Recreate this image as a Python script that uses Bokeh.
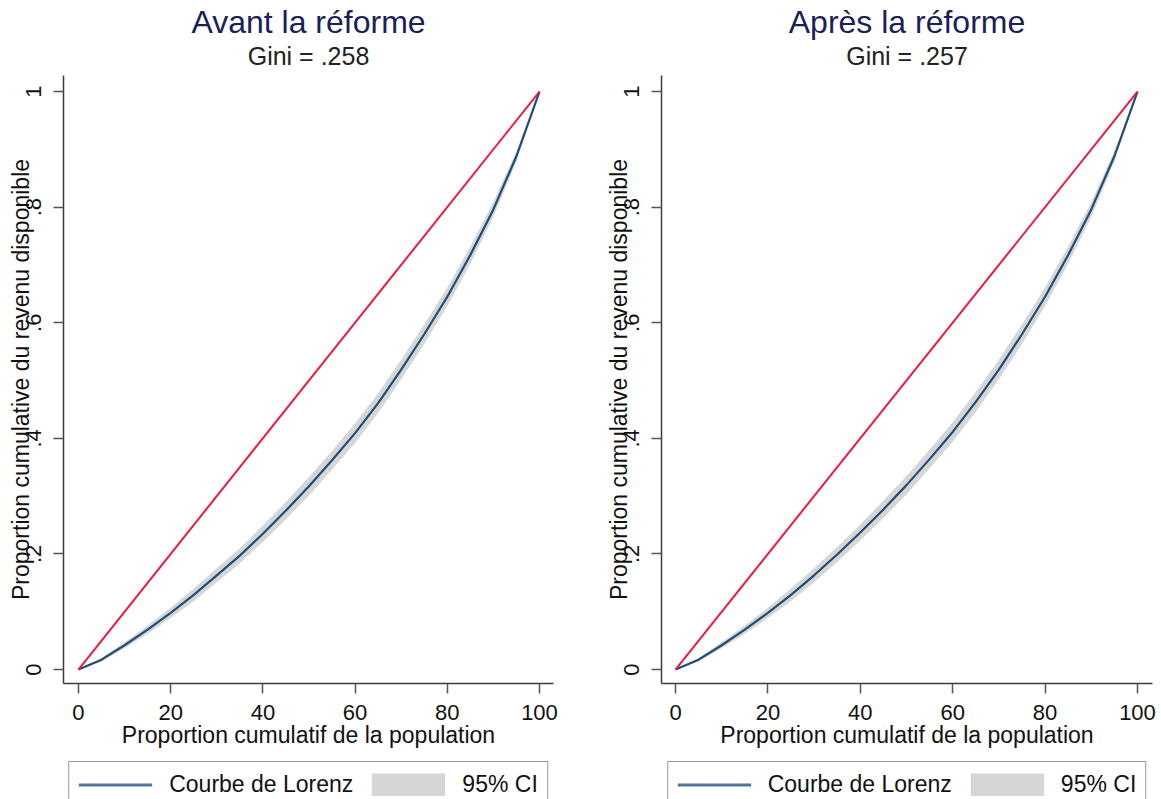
from bokeh.plotting import figure
from bokeh.models import Range1d, FixedTicker, Legend, LegendItem, Title
from bokeh.layouts import row, column
from bokeh.embed import file_html
from bokeh.resources import INLINE

FONT = "Liberation Sans"

# Cumulative share of the population (%)
pop_share = [0, 5, 10, 15, 20, 25, 30, 35, 40, 45, 50, 55, 60, 65, 70, 75, 80, 85, 90, 95, 100]

# Lorenz curve of disposable income before the reform, with its 95% band
lorenz_before = [0, 0.017, 0.042, 0.069, 0.098, 0.129, 0.163, 0.197, 0.235, 0.275, 0.317,
                 0.362, 0.409, 0.461, 0.519, 0.580, 0.645, 0.717, 0.796, 0.888, 1.0]
ci_low_before = [0, 0.014, 0.037, 0.062, 0.089, 0.118, 0.151, 0.184, 0.221, 0.260, 0.301,
                 0.346, 0.392, 0.444, 0.502, 0.563, 0.629, 0.702, 0.783, 0.879, 1.0]
ci_high_before = [0, 0.020, 0.047, 0.076, 0.107, 0.140, 0.175, 0.210, 0.249, 0.290, 0.333,
                  0.378, 0.426, 0.478, 0.536, 0.597, 0.661, 0.732, 0.809, 0.897, 1.0]

# Same after the reform
lorenz_after = [0, 0.017, 0.042, 0.069, 0.098, 0.129, 0.163, 0.199, 0.237, 0.277, 0.319,
                0.364, 0.411, 0.463, 0.519, 0.580, 0.645, 0.717, 0.796, 0.888, 1.0]
ci_low_after = [0, 0.014, 0.037, 0.062, 0.089, 0.118, 0.151, 0.186, 0.223, 0.262, 0.303,
                0.348, 0.394, 0.446, 0.502, 0.563, 0.629, 0.702, 0.783, 0.879, 1.0]
ci_high_after = [0, 0.020, 0.047, 0.076, 0.107, 0.140, 0.175, 0.212, 0.251, 0.292, 0.335,
                 0.380, 0.428, 0.480, 0.536, 0.597, 0.661, 0.732, 0.809, 0.897, 1.0]

# Line of perfect equality
equality_x = [0, 100]
equality_y = [0, 1]

x_ticks = [0, 20, 40, 60, 80, 100]
y_ticks = [0, 0.2, 0.4, 0.6, 0.8, 1]
y_tick_labels = ["0", ".2", ".4", ".6", ".8", "1"]

panel_titles = ["Avant la réforme", "Après la réforme"]
gini_values = [".258", ".257"]
legend_labels = ["Courbe de Lorenz", "95% CI"]

CURVE_COLOR = "#1e4d78"
KEY_COLOR = "#52759a"
BAND_COLOR = "#d6d6d6"
EQUALITY_COLOR = "#f2183c"


def make_panel(title, gini, lorenz, low, high, width, left, right, x_start, x_end):
    p = figure(width=width, height=761, output_backend="svg", toolbar_location=None,
               title_location=None,
               x_range=Range1d(x_start, x_end), y_range=Range1d(-0.0242, 1.0277),
               min_border_left=left, min_border_right=right,
               min_border_top=75, min_border_bottom=78)
    p.outline_line_color = None
    p.background_fill_color = "white"
    p.border_fill_color = "white"
    p.grid.visible = False

    p.varea(x=pop_share, y1=low, y2=high, fill_color=BAND_COLOR)
    p.line(pop_share, lorenz, line_color=CURVE_COLOR, line_width=2.2)
    p.line(equality_x, equality_y, line_color=EQUALITY_COLOR, line_width=2)

    p.xaxis.ticker = FixedTicker(ticks=x_ticks)
    p.yaxis.ticker = FixedTicker(ticks=y_ticks)
    p.yaxis.major_label_overrides = dict(zip(y_ticks, y_tick_labels))

    for ax in (p.xaxis[0], p.yaxis[0]):
        ax.axis_line_color = "#3c3c3c"
        ax.axis_line_width = 1.5
        ax.major_tick_line_color = "#555555"
        ax.major_tick_line_width = 1.5
        ax.major_tick_out = 10
        ax.major_tick_in = 0
        ax.minor_tick_line_color = None
        ax.major_label_text_font = FONT
        ax.major_label_text_font_size = "22px"
        ax.major_label_text_color = "#111111"
        ax.axis_label_text_font = FONT
        ax.axis_label_text_font_size = "23px"
        ax.axis_label_text_font_style = "normal"
        ax.axis_label_text_color = "#111111"

    p.xaxis.axis_label = "Proportion cumulatif de la population"
    p.xaxis.major_label_standoff = 11
    p.xaxis.axis_label_standoff = -1
    p.yaxis.axis_label = "Proportion cumulative du revenu disponible"
    p.yaxis.major_label_orientation = "vertical"
    p.yaxis.major_label_standoff = 12
    p.yaxis.axis_label_standoff = -10

    # titles: the first one added sits closest to the plot
    p.add_layout(Title(text="Gini = " + gini, align="center", text_font=FONT,
                       text_font_size="25px", text_font_style="normal",
                       text_color="#222222", standoff=12), "above")
    p.add_layout(Title(text=title, align="center", vertical_align="top", text_font=FONT,
                       text_font_size="32px", text_font_style="normal",
                       text_color="#1a1f5a", standoff=-16), "above")
    return p


def make_legend(lorenz, low, high, width, left, right):
    # strip under each panel holding its legend box; the keys reuse the panel's
    # series, kept outside the visible ranges so only the legend shows
    lg = figure(width=width, height=38, output_backend="svg", toolbar_location=None,
                title_location=None, x_axis_location=None, y_axis_location=None,
                x_range=Range1d(200, 300), y_range=Range1d(5, 6),
                min_border_left=left, min_border_right=right,
                min_border_top=0, min_border_bottom=0)
    lg.outline_line_color = None
    lg.grid.visible = False
    lg.border_fill_color = "white"
    key_line = lg.line(pop_share, lorenz, line_color=KEY_COLOR, line_width=3)
    key_band = lg.line(pop_share, high, line_color=BAND_COLOR, line_width=23,
                       line_cap="butt")
    legend = Legend(items=[LegendItem(label=legend_labels[0], renderers=[key_line]),
                           LegendItem(label=legend_labels[1], renderers=[key_band])],
                    orientation="horizontal", location="top_center", margin=0,
                    glyph_width=74, glyph_height=23, label_standoff=17, spacing=18,
                    padding=9, label_text_font=FONT, label_text_font_size="23px",
                    label_text_color="#111111",
                    border_line_color="#333333", border_line_width=1.5,
                    background_fill_color="white", background_fill_alpha=1)
    lg.add_layout(legend)
    return lg


p1 = make_panel(panel_titles[0], gini_values[0], lorenz_before, ci_low_before, ci_high_before,
                580, 63, 27, -3.25, 103.04)
p2 = make_panel(panel_titles[1], gini_values[1], lorenz_after, ci_low_after, ci_high_after,
                581, 81, 9, -3.03, 103.25)
l1 = make_legend(lorenz_before, ci_low_before, ci_high_before, 580, 63, 27)
l2 = make_legend(lorenz_after, ci_low_after, ci_high_after, 581, 81, 9)

layout = column(row(p1, p2), row(l1, l2))
open("out.html", "w").write(file_html(layout, INLINE))
